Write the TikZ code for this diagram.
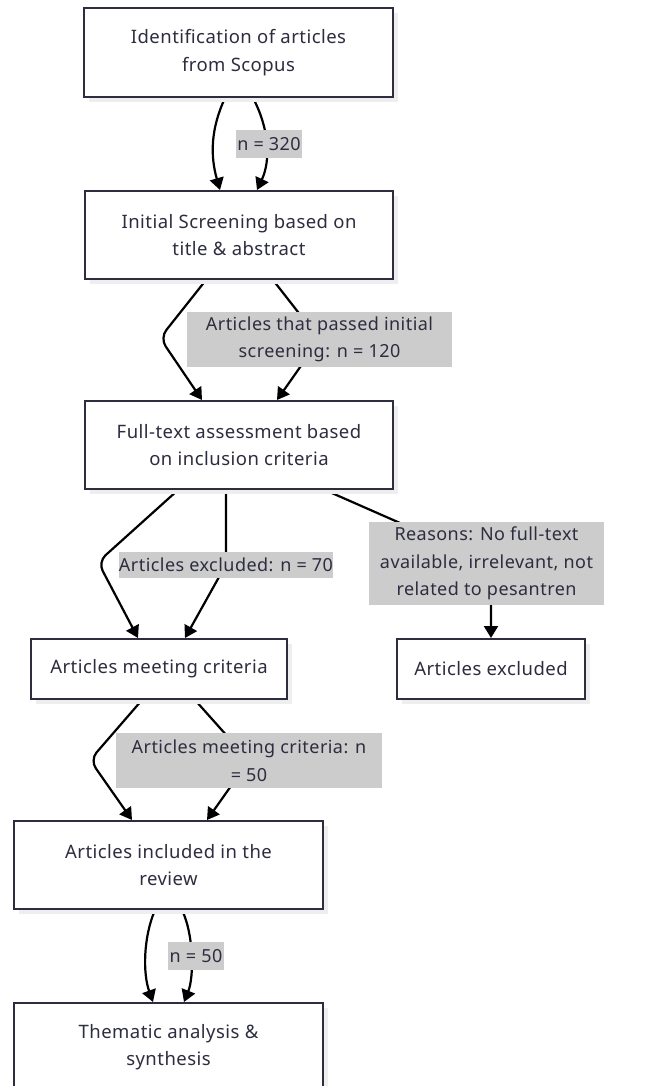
\documentclass[tikz,border=0pt]{standalone}
\usepackage{fontspec}
\setmainfont[LetterSpace=2.5]{Noto Sans}
\usetikzlibrary{arrows.meta,shadows,backgrounds}
\definecolor{ink}{RGB}{45,45,64}
\definecolor{lblgray}{RGB}{204,204,204}
\definecolor{shade}{RGB}{238,238,238}
\begin{document}
\begin{tikzpicture}[x=1pt,y=-1pt,
  box/.style={draw=ink, line width=2pt, fill=white, text=ink, align=center, inner sep=0pt,
    font=\fontsize{18.5}{27.5}\selectfont,
    general shadow={fill=shade, shadow xshift=5pt, shadow yshift=-5pt}},
  lbl/.style={fill=lblgray, text=ink, align=center, inner sep=0pt, font=\fontsize{18}{27.5}\selectfont},
  arr/.style={draw=black, line width=2.2pt, -{Triangle[length=12pt,width=14pt]}},
]
\useasboundingbox (0,0) rectangle (651,1086);
\clip (0,0) rectangle (651,1086);

% boxes
\node[box, minimum width=309pt, minimum height=89pt] (b1) at (238.5,52.5) {Identification of articles\\from Scopus};
\node[box, minimum width=308pt, minimum height=88pt] (b2) at (239,235) {Initial Screening based on\\title \& abstract};
\node[box, minimum width=308pt, minimum height=88pt] (b3) at (239,445) {Full-text assessment based\\on inclusion criteria};
\node[box, minimum width=256pt, minimum height=60pt] (b4) at (159,669) {Articles meeting criteria};
\node[box, minimum width=188pt, minimum height=60pt] (bx) at (491,669) {Articles excluded};
\node[box, minimum width=309pt, minimum height=88pt] (b5) at (168.5,865) {Articles included in the\\review};
\node[box, minimum width=309pt, minimum height=88pt] (b6) at (168.5,1047) {Thematic analysis \&\\synthesis};

% labels
\node[lbl, minimum width=66pt, minimum height=28pt] (l1) at (269,144) {n = 320};
\node[lbl, minimum width=265pt, minimum height=55pt] (l2) at (319.5,339.5) {Articles that passed initial\\screening: n = 120};
\node[lbl, minimum width=210pt, minimum height=26pt] (l3) at (226,564.5) {Articles excluded: n = 70};
\node[lbl, minimum width=235pt, minimum height=83pt] (l4) at (486.5,563.5) {Reasons: No full-text\\available, irrelevant, not\\related to pesantren};
\node[lbl, minimum width=266pt, minimum height=55pt] (l5) at (249,760.5) {Articles meeting criteria: n\\= 50};
\node[lbl, minimum width=56pt, minimum height=28pt] (l6) at (196,956) {n = 50};

% bend points
\coordinate (c2) at (160,338);
\coordinate (c3) at (98,562);
\coordinate (c3r) at (491,563);
\coordinate (c4) at (90,760);

\begin{scope}[on background layer]
% 1 -> 2
\draw[arr] ([xshift=-13.5pt]b1.south) .. controls +(-14,30) and +(-10,-35) .. ([xshift=-19pt]b2.north);
\draw[arr] ([xshift=14.5pt]b1.south) .. controls +(16,30) and +(14,-30) .. ([xshift=18pt]b2.north);
% 2 -> 3
\draw[arr, rounded corners=10pt] ([xshift=-33pt]b2.south) -- (c2) -- ([xshift=-37pt]b3.north);
\draw[arr, rounded corners=10pt] ([xshift=34pt]b2.south) -- (l2.center) -- ([xshift=38pt]b3.north);
% 3 -> 4
\draw[arr, rounded corners=10pt] ([xshift=-61pt]b3.south) -- (c3) -- ([xshift=-21pt]b4.north);
\draw[arr, rounded corners=10pt] ([xshift=-13pt]b3.south) -- (l3.center) -- ([xshift=26pt]b4.north);
% 3 -> excluded
\draw[arr, rounded corners=10pt] ([xshift=86pt]b3.south) -- (c3r) -- (bx.north);
% 4 -> 5
\draw[arr, rounded corners=10pt] ([xshift=-17pt]b4.south) -- (c4) -- ([xshift=-36.5pt]b5.north);
\draw[arr, rounded corners=10pt] ([xshift=36pt]b4.south) -- (l5.center) -- ([xshift=38.5pt]b5.north);
% 5 -> 6
\draw[arr] ([xshift=-13.5pt]b5.south) .. controls +(-12,28) and +(-10,-28) .. ([xshift=-15.5pt]b6.north);
\draw[arr] ([xshift=13.5pt]b5.south) .. controls +(12,25) and +(10,-25) .. ([xshift=15.5pt]b6.north);
\end{scope}
\end{tikzpicture}
\end{document}
